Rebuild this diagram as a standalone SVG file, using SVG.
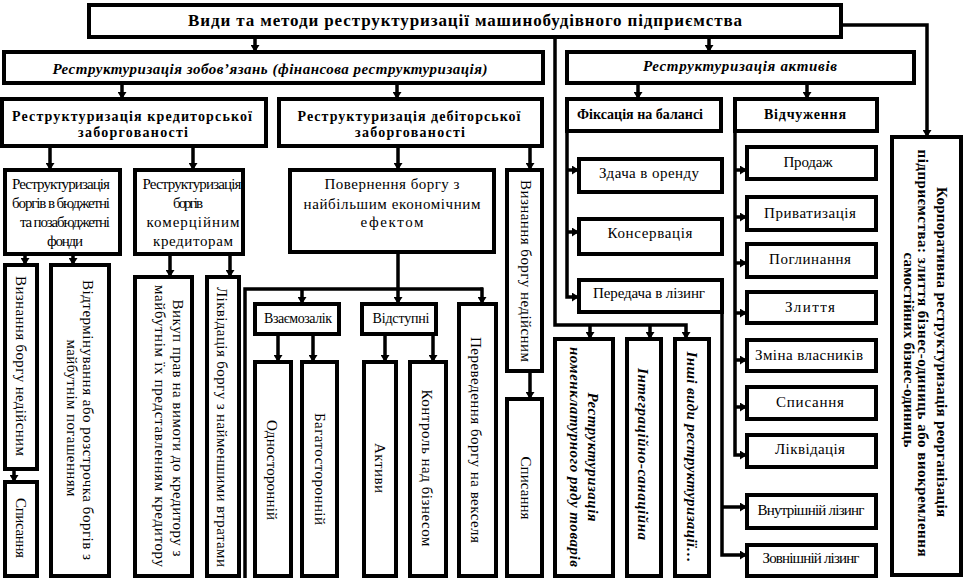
<svg xmlns="http://www.w3.org/2000/svg" width="964" height="581" viewBox="0 0 964 581">
<style>
.b{fill:#fff;stroke:#000;stroke-width:4}
.c{fill:none;stroke:#000;stroke-width:3.5}
.a{marker-end:url(#ah)}
text{font-family:"Liberation Serif","Times New Roman",serif;fill:#000;text-anchor:middle;font-size:15px}
.bo{font-weight:bold;font-size:14px}
.bi{font-weight:bold;font-style:italic}
.bt{font-weight:bold}
</style>
<defs>
<marker id="ah" markerUnits="userSpaceOnUse" markerWidth="8" markerHeight="9" refX="7" refY="4.5" orient="auto">
<path d="M0,0 L7,4.5 L0,9 z" fill="#000"/>
</marker>
</defs>
<rect width="964" height="581" fill="#fff"/>

<g id="connectors">
<path class="c a" d="M255,39 V52"/>
<path class="c a" d="M709,39 V52"/>
<path class="c a" d="M555,39 V325 H686 V339"/>
<path class="c a" d="M590,325 V339"/>
<path class="c a" d="M650,325 V339"/>
<path class="c a" d="M843,25 H927 V137"/>
<path class="c a" d="M122,85 V99"/>
<path class="c a" d="M397,85 V99"/>
<path class="c a" d="M50,148 V170"/>
<path class="c a" d="M193,148 V170"/>
<path class="c a" d="M25,256 V265"/>
<path class="c a" d="M73,256 V265"/>
<path class="c a" d="M14,471 V482"/>
<path class="c a" d="M170,256 V277"/>
<path class="c a" d="M230,256 V277"/>
<path class="c a" d="M398,148 V170"/>
<path class="c a" d="M530,148 V170"/>
<path class="c a" d="M530,373 V399"/>
<path class="c a" d="M398,254 V304"/>
<path class="c" d="M245,578 V289 H483"/>
<path class="c a" d="M302,289 V304"/>
<path class="c a" d="M482,287.5 V304"/>
<path class="c a" d="M278,336 V362"/>
<path class="c a" d="M313,336 V362"/>
<path class="c a" d="M385,336 V362"/>
<path class="c a" d="M433,336 V362"/>
<path class="c a" d="M638,85 V99"/>
<path class="c a" d="M807,85 V99"/>
<path class="c a" d="M567,131 V297 H579"/>
<path class="c a" d="M567,170 H579"/>
<path class="c a" d="M567,232 H579"/>
<path class="c a" d="M735,131 V455 H747"/>
<path class="c a" d="M735,170 H747"/>
<path class="c a" d="M735,217 H747"/>
<path class="c a" d="M735,263 H747"/>
<path class="c a" d="M735,313 H747"/>
<path class="c a" d="M735,360 H747"/>
<path class="c a" d="M735,407 H747"/>
<path class="c a" d="M722,312 V555 H747"/>
<path class="c a" d="M722,507 H747"/>
</g>

<g id="title">
<rect class="b" x="89" y="5" width="752" height="32"/>
<text class="bt" x="465" y="26" style="font-size:17px" textLength="554">Види та методи реструктуризації машинобудівного підприємства</text>
</g>

<g id="zobovyazan">
<rect class="b" x="4" y="52" width="539" height="31"/>
<text class="bi" x="270" y="74" textLength="435">Реструктуризація зобов’язань (фінансова реструктуризація)</text>
</g>

<g id="aktyviv">
<rect class="b" x="567" y="52" width="347" height="31"/>
<text class="bi" x="740" y="71" textLength="194">Реструктуризація активів</text>
</g>

<g id="kredytorskoi">
<rect class="b" x="2" y="99" width="264" height="47"/>
<text class="bo" x="132" y="121" textLength="240">Реструктуризація кредиторської</text>
<text class="bo" x="133" y="137" textLength="110">заборгованості</text>
</g>

<g id="debitorskoi">
<rect class="b" x="279" y="99" width="263" height="47"/>
<text class="bo" x="409" y="121" textLength="223">Реструктуризація дебіторської</text>
<text class="bo" x="410" y="137" textLength="110">заборгованості</text>
</g>

<g id="biudzhetni">
<rect class="b" x="5" y="170" width="115" height="84"/>
<text x="61" y="189" textLength="98">Реструктуризація</text>
<text x="61" y="208" textLength="98">боргів в бюджетні</text>
<text x="65" y="227" textLength="90">та позабюджетні</text>
<text x="65" y="246" textLength="36">фонди</text>
</g>

<g id="komertsiinym">
<rect class="b" x="135" y="170" width="108" height="84"/>
<text x="192" y="189" textLength="99">Реструктуризація</text>
<text x="188" y="208" textLength="30">боргів</text>
<text x="193" y="227" textLength="93">комерційним</text>
<text x="193" y="246" textLength="80">кредиторам</text>
</g>

<g id="vyznannia1">
<rect class="b" x="5" y="265" width="32" height="204"/>
<text transform="translate(21,366) rotate(90)" y="5" textLength="180">Визнання боргу недійсним</text>
</g>

<g id="spysannia1">
<rect class="b" x="5" y="482" width="32" height="94"/>
<text transform="translate(21,528) rotate(90)" y="5" textLength="60">Списання</text>
</g>

<g id="vidterminuvannia">
<rect class="b" x="51" y="265" width="58" height="311"/>
<text transform="translate(88,420) rotate(90)" y="5" textLength="280">Відтермінування або розстрочка боргів з</text>
<text transform="translate(72,418) rotate(90)" y="5" textLength="157">майбутнім погашенням</text>
</g>

<g id="vykup">
<rect class="b" x="135" y="277" width="57" height="299"/>
<text transform="translate(178,428) rotate(90)" y="5" textLength="257">Викуп прав на вимоги до кредитору з</text>
<text transform="translate(160,426) rotate(90)" y="5" textLength="282">майбутнім їх представленням кредитору</text>
</g>

<g id="likvidatsiia-borhu">
<rect class="b" x="207" y="277" width="32" height="299"/>
<text transform="translate(222,427) rotate(90)" y="5" textLength="280">Ліквідація боргу з найменшими втратами</text>
</g>

<g id="povernennia">
<rect class="b" x="290" y="170" width="204" height="82"/>
<text x="392" y="189" textLength="135">Повернення боргу з</text>
<text x="392" y="209" textLength="177">найбільшим економічним</text>
<text x="392" y="227" textLength="63">ефектом</text>
</g>

<g id="vyznannia2">
<rect class="b" x="507" y="170" width="35" height="201"/>
<text transform="translate(526,271) rotate(90)" y="5" textLength="182">Визнання боргу недійсним</text>
</g>

<g id="spysannia2">
<rect class="b" x="507" y="399" width="35" height="177"/>
<text transform="translate(526,488) rotate(90)" y="5" textLength="63">Списання</text>
</g>

<g id="vzaiemozalik">
<rect class="b" x="255" y="304" width="84" height="30"/>
<text x="298" y="323" style="font-size:14px" textLength="68">Взаємозалік</text>
</g>

<g id="vidstupni">
<rect class="b" x="362" y="304" width="74" height="30"/>
<text x="401" y="323" style="font-size:14px" textLength="57">Відступні</text>
</g>

<g id="perevedennia">
<rect class="b" x="459" y="304" width="37" height="272"/>
<text transform="translate(476,440) rotate(90)" y="5" textLength="206">Переведення боргу на векселя</text>
</g>

<g id="odnostoronnii">
<rect class="b" x="255" y="362" width="36" height="214"/>
<text transform="translate(272,470) rotate(90)" y="5" textLength="100">Односторонній</text>
</g>

<g id="bahatostoronnii">
<rect class="b" x="302" y="362" width="35" height="214"/>
<text transform="translate(320,469) rotate(90)" y="5" textLength="112">Багатосторонній</text>
</g>

<g id="aktyvy">
<rect class="b" x="364" y="362" width="32" height="214"/>
<text transform="translate(380,468) rotate(90)" y="5" textLength="50">Активи</text>
</g>

<g id="kontrol">
<rect class="b" x="410" y="362" width="36" height="214"/>
<text transform="translate(427,468) rotate(90)" y="5" textLength="157">Контроль над бізнесом</text>
</g>

<g id="fiksatsiia">
<rect class="b" x="567" y="99" width="154" height="32"/>
<text class="bo" x="640" y="119" textLength="126">Фіксація на балансі</text>
</g>

<g id="zdacha">
<rect class="b" x="579" y="159" width="143" height="33"/>
<text x="649" y="178" textLength="100">Здача в оренду</text>
</g>

<g id="konservatsiia">
<rect class="b" x="579" y="219" width="143" height="35"/>
<text x="650" y="238" textLength="85">Консервація</text>
</g>

<g id="peredacha">
<rect class="b" x="579" y="280" width="143" height="32"/>
<text x="649" y="298" textLength="112">Передача в лізинг</text>
</g>

<g id="nomenklaturnoho">
<rect class="b" x="555" y="339" width="58" height="237"/>
<text class="bi" transform="translate(593,457) rotate(90)" y="5" textLength="129">Реструктуризація</text>
<text class="bi" transform="translate(575,457) rotate(90)" y="5" textLength="220">номенклатурного ряду товарів</text>
</g>

<g id="intehratsiino">
<rect class="b" x="627" y="339" width="34" height="237"/>
<text class="bi" transform="translate(643,454) rotate(90)" y="5" textLength="172">Інтеграційно-санаційна</text>
</g>

<g id="inshi">
<rect class="b" x="675" y="339" width="34" height="237"/>
<text class="bi" transform="translate(692,457) rotate(90)" y="5" textLength="211">Інші види реструктуризації…</text>
</g>

<g id="vidchuzhennia">
<rect class="b" x="735" y="99" width="142" height="32"/>
<text class="bo" x="805" y="119" textLength="82">Відчуження</text>
</g>

<g id="prodazh">
<rect class="b" x="747" y="147" width="129" height="32"/>
<text x="808" y="167" textLength="49">Продаж</text>
</g>
<g id="pryvatyzatsiia">
<rect class="b" x="747" y="197" width="129" height="33"/>
<text x="810" y="218" textLength="92">Приватизація</text>
</g>
<g id="pohlynannia">
<rect class="b" x="747" y="244" width="129" height="33"/>
<text x="810" y="264" textLength="82">Поглинання</text>
</g>
<g id="zlyttia">
<rect class="b" x="747" y="292" width="129" height="31"/>
<text x="810" y="312" textLength="50">Злиття</text>
</g>
<g id="zmina">
<rect class="b" x="747" y="340" width="129" height="31"/>
<text x="809" y="360" textLength="108">Зміна власників</text>
</g>
<g id="spysannia3">
<rect class="b" x="747" y="387" width="129" height="32"/>
<text x="810" y="407" textLength="68">Списання</text>
</g>
<g id="likvidatsiia">
<rect class="b" x="747" y="435" width="129" height="32"/>
<text x="810" y="454" textLength="70">Ліквідація</text>
</g>
<g id="vnutrishnii">
<rect class="b" x="747" y="495" width="129" height="33"/>
<text x="811" y="515" textLength="107">Внутрішній лізинг</text>
</g>
<g id="zovnishnii">
<rect class="b" x="747" y="545" width="129" height="31"/>
<text x="811" y="563" textLength="97">Зовнішній лізинг</text>
</g>

<g id="korporatyvna">
<rect class="b" x="892" y="137" width="69" height="438"/>
<text class="bt" transform="translate(942,352) rotate(90)" y="5" textLength="330">Корпоративна реструктуризація реорганізація</text>
<text class="bt" transform="translate(923,353) rotate(90)" y="5" textLength="407">підприємства: злиття бізнес-одиниць  або виокремлення</text>
<text class="bt" transform="translate(909,350) rotate(90)" y="5" textLength="195">самостійних бізнес-одиниць</text>
</g>
</svg>
